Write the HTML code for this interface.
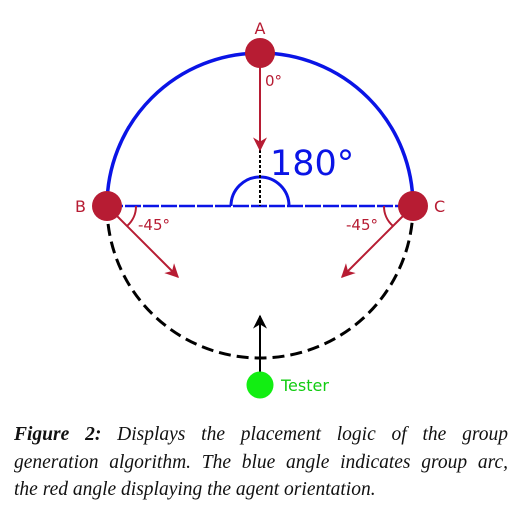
<!DOCTYPE html>
<html><head><style>
body{margin:0;width:518px;height:518px;background:#fff;overflow:hidden;position:relative}
svg{position:absolute;left:0;top:0}
.cap{position:absolute;left:14px;top:421px;width:494px;font-family:"Liberation Serif",serif;font-style:italic;font-size:19.5px;line-height:27.5px;color:#111}
.cap div{white-space:nowrap}
.cap .j{white-space:normal;text-align:justify;text-align-last:justify}
</style></head><body>
<svg width="518" height="410" font-family="DejaVu Sans, sans-serif">
<defs>
<marker id="ar" viewBox="0 0 10 10" refX="9" refY="5" markerWidth="7" markerHeight="7" orient="auto"><path d="M0,0 L10,5 L0,10 L3,5 Z" fill="#b71c33"/></marker>
<marker id="ak" viewBox="0 0 10 10" refX="9" refY="5" markerWidth="7" markerHeight="7" orient="auto"><path d="M0,0 L10,5 L0,10 L3,5 Z" fill="#000"/></marker>
</defs>
<path d="M107,206 A153,153 0 0 1 413,206" fill="none" stroke="#0a14e6" stroke-width="3.5"/>
<path d="M107,206 L413,206" stroke="#0a14e6" stroke-width="2.5" stroke-dasharray="16,2"/>
<path d="M107,206 A153,152 0 0 0 413,206" fill="none" stroke="#000" stroke-width="3" stroke-dasharray="12,6"/>
<path d="M231,206 A29,29 0 0 1 289,206" fill="none" stroke="#0a14e6" stroke-width="3"/>
<line x1="260" y1="150" x2="260" y2="206" stroke="#000" stroke-width="2" stroke-dasharray="3,2"/>
<line x1="260" y1="66" x2="260" y2="150" stroke="#b71c33" stroke-width="2" marker-end="url(#ar)"/>
<line x1="114" y1="213" x2="178" y2="277" stroke="#b71c33" stroke-width="2" marker-end="url(#ar)"/>
<line x1="406" y1="213" x2="342" y2="277" stroke="#b71c33" stroke-width="2" marker-end="url(#ar)"/>
<path d="M136,206 A26,26 0 0 1 127,226" fill="none" stroke="#b71c33" stroke-width="2"/>
<path d="M384,206 A26,26 0 0 0 393,226" fill="none" stroke="#b71c33" stroke-width="2"/>
<line x1="260" y1="373" x2="260" y2="316" stroke="#000" stroke-width="2" marker-end="url(#ak)"/>
<circle cx="260" cy="53" r="15" fill="#b71c33"/>
<circle cx="107" cy="206" r="15" fill="#b71c33"/>
<circle cx="413" cy="206" r="15" fill="#b71c33"/>
<circle cx="260" cy="385" r="13.5" fill="#12ee12"/>
<text x="260" y="34" font-size="16" fill="#b71c33" text-anchor="middle">A</text>
<text x="86" y="212" font-size="16" fill="#b71c33" text-anchor="end">B</text>
<text x="434" y="212" font-size="16" fill="#b71c33">C</text>
<text x="265" y="86" font-size="15" fill="#b71c33">0°</text>
<text x="138" y="230" font-size="15" fill="#b71c33">-45°</text>
<text x="378" y="230" font-size="15" fill="#b71c33" text-anchor="end">-45°</text>
<text x="270" y="175" font-size="35" fill="#0a14e6">180°</text>
<text x="281" y="391" font-size="16" fill="#12cc12">Tester</text>
</svg>
<div class="cap">
<div class="j"><b>Figure 2:</b> Displays the placement logic of the group</div>
<div class="j">generation algorithm. The blue angle indicates group arc,</div>
<div>the red angle displaying the agent orientation.</div>
</div>
</body></html>
